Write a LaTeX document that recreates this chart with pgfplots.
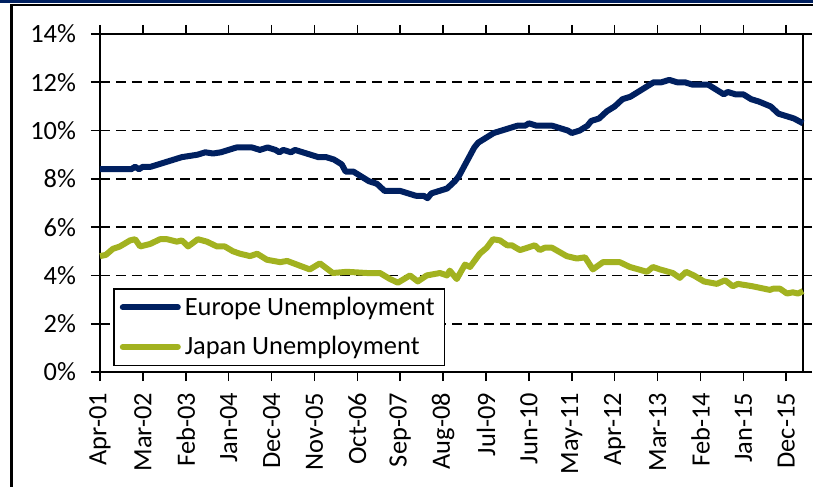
\documentclass[border=0pt]{standalone}
\usepackage{pgfplots}
\pgfplotsset{compat=1.18}
\usepackage{fontspec}
\setmainfont{Carlito}
\definecolor{eunavy}{RGB}{0,32,96}
\definecolor{jpolive}{RGB}{162,178,32}
\begin{document}
\begin{tikzpicture}
\useasboundingbox (-50pt,-57.5pt) rectangle (356.5pt,186pt);
\fill[eunavy] (-50pt,184.5pt) rectangle (356.5pt,186pt);
\fill[black] (-45pt,183pt) rectangle (356.5pt,184pt);
\fill[black] (-45pt,-57.5pt) rectangle (-43.5pt,184pt);
\begin{axis}[
  at={(0,0)}, anchor=south west,
  scale only axis,
  width=351.5pt, height=169pt,
  xmin=0, xmax=180.3,
  ymin=0, ymax=14,
  xtick={0,11,...,176},
  xticklabels={Apr-01,Mar-02,Feb-03,Jan-04,Dec-04,Nov-05,Oct-06,Sep-07,Aug-08,Jul-09,Jun-10,May-11,Apr-12,Mar-13,Feb-14,Jan-15,Dec-15},
  ytick={0,2,...,14},
  yticklabel={\pgfmathprintnumber{\tick}\%},
  /pgf/number format/assume math mode=true,
  tick label style={font=\fontsize{13.2}{16}\selectfont},
  xticklabel style={rotate=90, anchor=east, xshift=-2.5pt},
  yticklabel style={xshift=-4pt},
  tick align=outside,
  xtick style={black, line width=0.8pt},
  ytick style={black, line width=0.8pt},
  major tick length=4.5pt,
  ymajorgrids,
  major grid style={black, line width=0.8pt, dash pattern=on 5pt off 3pt},
  axis line style={black, line width=0.9pt},
  clip=false,
  legend cell align=left,
  legend style={at={(0.0185,0.2485)}, anchor=north west, draw=black, line width=0.8pt,
    fill=white, font=\fontsize{13.2}{16}\selectfont, row sep=5pt,
    inner xsep=3pt, inner ysep=2pt},
  legend image code/.code={\draw[#1, line cap=round] (0pt,0pt) -- (27.5pt,0pt);},
]
\addplot[eunavy, line width=3pt, line join=round] coordinates {
(0,8.4) (2,8.4) (4,8.4) (6,8.4) (8,8.4) (9,8.5) (10,8.4) (11,8.5) (13,8.5) (15,8.6)
(17,8.7) (19,8.8) (21,8.9) (23,8.95) (25,9.0) (27,9.1) (29,9.05) (31,9.1) (33,9.2) (35,9.3)
(37,9.3) (39,9.3) (41,9.2) (43,9.3) (45,9.2) (46,9.1) (47,9.2) (49,9.1) (50,9.2) (52,9.1)
(54,9.0) (56,8.9) (58,8.9) (60,8.8) (62,8.6) (63,8.3) (65,8.3) (67,8.1) (69,7.9) (71,7.8)
(73,7.5) (75,7.5) (77,7.5) (79,7.4) (81,7.3) (83,7.3) (84,7.2) (85,7.4) (87,7.5) (89,7.6)
(91,7.9) (92,8.1) (93,8.4) (94,8.7) (95,9.0) (96,9.3) (97,9.5) (99,9.7) (101,9.9) (103,10.0)
(105,10.1) (107,10.2) (109,10.2) (110,10.3) (112,10.2) (114,10.2) (116,10.2) (118,10.1) (120,10.0) (121,9.9)
(123,10.0) (125,10.2) (126,10.4) (128,10.5) (130,10.8) (132,11.0) (134,11.3) (136,11.4) (138,11.6) (140,11.8)
(142,12.0) (144,12.0) (146,12.1) (148,12.0) (150,12.0) (152,11.9) (154,11.9) (156,11.9) (158,11.7) (160,11.5)
(161,11.6) (163,11.5) (165,11.5) (167,11.3) (169,11.2) (172,11.0) (174,10.7) (176,10.6) (178,10.5) (180.3,10.3)
};
\addlegendentry{Europe Unemployment}
\addplot[jpolive, line width=3pt, line join=round] coordinates {
(0,4.8) (1.5,4.85) (3.3,5.1) (5.1,5.2) (7.7,5.45) (9,5.5) (10.3,5.2) (12.8,5.3) (15.4,5.5) (17.2,5.5)
(19.7,5.4) (21,5.45) (22.6,5.2) (25.1,5.5) (27.4,5.4) (30,5.2) (32,5.2) (34.1,5.0) (35.9,4.9) (38.5,4.8)
(40.3,4.9) (42.8,4.65) (46.2,4.55) (48,4.6) (51.3,4.4) (53.8,4.25) (56.4,4.5) (59.7,4.1) (63.3,4.15) (68.5,4.1)
(71.8,4.1) (74.4,3.85) (76.4,3.7) (79.5,4.0) (81.5,3.75) (83.8,4.0) (87.2,4.1) (89,4.0) (89.7,4.2) (91.5,3.85)
(93.6,4.45) (94.9,4.35) (97.4,4.9) (99.2,5.15) (100.8,5.5) (102.6,5.45) (104.4,5.25) (105.6,5.25) (107.7,5.05) (109.7,5.15)
(111.5,5.25) (112.8,5.05) (114.1,5.15) (115.9,5.15) (119.7,4.8) (122.3,4.7) (124.4,4.75) (126.4,4.25) (129,4.55) (133.3,4.55)
(135.9,4.35) (140.3,4.15) (141.8,4.35) (143.6,4.25) (146.9,4.1) (148.7,3.9) (150.3,4.15) (152.3,4.0) (154.9,3.75) (158.2,3.65)
(160.3,3.8) (162.3,3.55) (163.6,3.65) (167.4,3.55) (171.8,3.4) (172.6,3.45) (174.4,3.45) (176.2,3.25) (177.7,3.3) (179,3.25) (180.3,3.35)
};
\addlegendentry{Japan Unemployment}
\end{axis}
\end{tikzpicture}
\end{document}
